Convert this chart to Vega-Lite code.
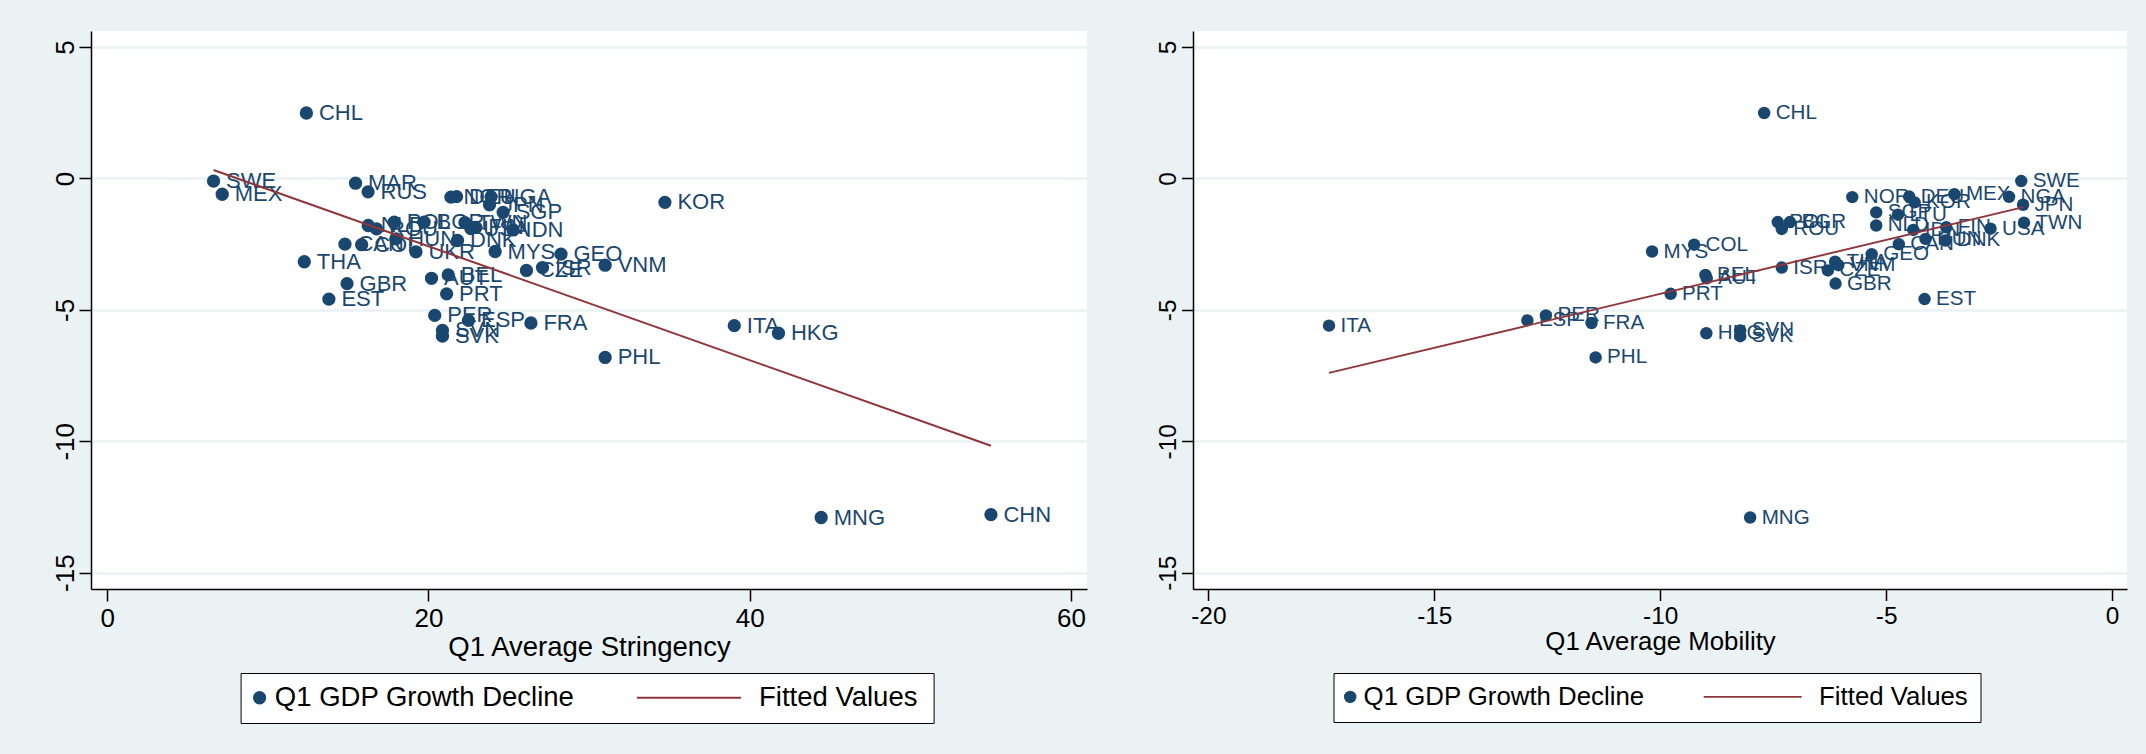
{
  "$schema": "https://vega.github.io/schema/vega-lite/v6.json",
  "background": "#EAF2F3",
  "padding": {"left": 51, "top": 31, "right": 19, "bottom": 33},
  "spacing": 68,
  "config": {
    "locale": {"number": {"decimal": ".", "thousands": ",", "grouping": [3], "currency": ["$", ""], "minus": "-"}},
    "view": {"stroke": null, "fill": "#FFFFFF"},
    "font": "Liberation Sans",
    "axis": {
      "domainColor": "#000000", "tickColor": "#000000", "labelColor": "#000000", "titleColor": "#000000",
      "domainWidth": 1.5, "tickWidth": 1.5, "labelFont": "Liberation Sans", "titleFont": "Liberation Sans",
      "titleFontWeight": "normal", "labelFlush": false, "labelOverlap": false
    },
    "axisX": {"grid": false},
    "axisY": {"grid": true, "gridColor": "#EAF2F3", "gridWidth": 2.5, "labelAngle": 270, "labelAlign": "center", "labelBaseline": "bottom"},
    "legend": {"labelFont": "Liberation Sans", "labelColor": "#000000", "labelLimit": 0, "title": null}
  },
  "datasets": {
    "pts": [
      {"iso": "CHL", "gdp": 2.49, "str": 12.4, "mob": -7.70},
      {"iso": "SWE", "gdp": -0.10, "str": 6.62, "mob": -2.01},
      {"iso": "MAR", "gdp": -0.18, "str": 15.46, "mob": null},
      {"iso": "RUS", "gdp": -0.51, "str": 16.24, "mob": null},
      {"iso": "MEX", "gdp": -0.60, "str": 7.16, "mob": -3.49},
      {"iso": "NOR", "gdp": -0.71, "str": 21.4, "mob": -5.75},
      {"iso": "DEU", "gdp": -0.69, "str": 21.75, "mob": -4.49},
      {"iso": "NGA", "gdp": -0.70, "str": 23.9, "mob": -2.28},
      {"iso": "KOR", "gdp": -0.91, "str": 34.72, "mob": -4.37},
      {"iso": "JPN", "gdp": -1.00, "str": 23.8, "mob": -1.97},
      {"iso": "SGP", "gdp": -1.29, "str": 24.65, "mob": -5.22},
      {"iso": "LTU", "gdp": -1.38, "str": null, "mob": -4.74},
      {"iso": "POL", "gdp": -1.66, "str": 17.87, "mob": -7.40},
      {"iso": "BGR", "gdp": -1.66, "str": 19.73, "mob": -7.13},
      {"iso": "TWN", "gdp": -1.68, "str": 22.27, "mob": -1.95},
      {"iso": "NLD", "gdp": -1.79, "str": 16.25, "mob": -5.22},
      {"iso": "FIN", "gdp": -1.86, "str": 22.95, "mob": -3.67},
      {"iso": "USA", "gdp": -1.91, "str": 22.64, "mob": -2.69},
      {"iso": "ROU", "gdp": -1.92, "str": 16.77, "mob": -7.31},
      {"iso": "IDN", "gdp": -1.96, "str": 25.27, "mob": -4.40},
      {"iso": "HUN", "gdp": -2.30, "str": 17.97, "mob": -4.13},
      {"iso": "DNK", "gdp": -2.36, "str": 21.81, "mob": -3.69},
      {"iso": "CAN", "gdp": -2.50, "str": 14.80, "mob": -4.72},
      {"iso": "COL", "gdp": -2.52, "str": 15.84, "mob": -9.25},
      {"iso": "MYS", "gdp": -2.78, "str": 24.15, "mob": -10.18},
      {"iso": "UKR", "gdp": -2.79, "str": 19.22, "mob": null},
      {"iso": "GEO", "gdp": -2.88, "str": 28.25, "mob": -5.32},
      {"iso": "THA", "gdp": -3.17, "str": 12.27, "mob": -6.13},
      {"iso": "VNM", "gdp": -3.30, "str": 31.0, "mob": -6.06},
      {"iso": "ISR", "gdp": -3.39, "str": 27.1, "mob": -7.31},
      {"iso": "CZE", "gdp": -3.50, "str": 26.1, "mob": -6.29},
      {"iso": "BEL", "gdp": -3.67, "str": 21.23, "mob": -9.0},
      {"iso": "AUT", "gdp": -3.80, "str": 20.19, "mob": -8.97},
      {"iso": "GBR", "gdp": -4.00, "str": 14.93, "mob": -6.12},
      {"iso": "PRT", "gdp": -4.39, "str": 21.13, "mob": -9.77},
      {"iso": "EST", "gdp": -4.59, "str": 13.80, "mob": -4.15},
      {"iso": "PER", "gdp": -5.21, "str": 20.39, "mob": -12.53},
      {"iso": "ESP", "gdp": -5.40, "str": 22.49, "mob": -12.94},
      {"iso": "FRA", "gdp": -5.50, "str": 26.38, "mob": -11.52},
      {"iso": "ITA", "gdp": -5.60, "str": 39.04, "mob": -17.33},
      {"iso": "SVN", "gdp": -5.78, "str": 20.87, "mob": -8.23},
      {"iso": "HKG", "gdp": -5.89, "str": 41.79, "mob": -8.98},
      {"iso": "SVK", "gdp": -6.00, "str": 20.87, "mob": -8.23},
      {"iso": "PHL", "gdp": -6.81, "str": 31.0, "mob": -11.43},
      {"iso": "MNG", "gdp": -12.90, "str": 44.45, "mob": -8.01},
      {"iso": "CHN", "gdp": -12.79, "str": 55.02, "mob": null}
    ],
    "fitS": [{"x": 6.62, "y": 0.32}, {"x": 55.02, "y": -10.17}],
    "fitM": [{"x": -17.33, "y": -7.40}, {"x": -1.96, "y": -1.09}]
  },
  "resolve": {"scale": {"fill": "independent", "stroke": "independent"}, "legend": {"fill": "independent", "stroke": "independent"}},
  "hconcat": [
    {
      "width": 996,
      "height": 558,
      "layer": [
        {
          "data": {"name": "pts"},
          "transform": [{"filter": "isValid(datum.str)"}],
          "mark": {"type": "point", "filled": true, "size": 177, "opacity": 1, "strokeWidth": 0},
          "encoding": {
            "x": {"field": "str", "type": "quantitative",
              "scale": {"domain": [-1.01, 61.0], "nice": false, "zero": false},
              "axis": {"values": [0, 20, 40, 60], "title": "Q1 Average Stringency", "labelFontSize": 26, "titleFontSize": 27.5, "tickSize": 12, "labelPadding": 4, "titlePadding": 2}},
            "y": {"field": "gdp", "type": "quantitative",
              "scale": {"domain": [-15.62, 5.61], "nice": false, "zero": false},
              "axis": {"values": [-15, -10, -5, 0, 5], "title": null, "labelFontSize": 26, "tickSize": 12, "labelPadding": 1, "minExtent": 40, "maxExtent": 40}},
            "fill": {"datum": "Q1 GDP Growth Decline",
              "scale": {"range": ["#1A476F"]},
              "legend": {
                "orient": "none", "legendX": 149.6, "legendY": 642, "direction": "horizontal",
                "strokeColor": "#000000", "fillColor": "#FFFFFF", "padding": 11,
                "labelFontSize": 27.5, "symbolType": "circle", "symbolSize": 177, "symbolStrokeWidth": 0, "symbolOpacity": 1,
                "symbolOffset": -5.75, "labelOffset": 1.5,
                "title": "00000000000000000000000", "titleOrient": "right", "titleOpacity": 0, "titleFontSize": 27.17,
                "titlePadding": 0, "titleLimit": 2000, "titleFont": "Liberation Sans", "titleFontWeight": "normal"
              }}
          }
        },
        {
          "data": {"name": "pts"},
          "transform": [{"filter": "isValid(datum.str)"}],
          "mark": {"type": "text", "align": "left", "baseline": "middle", "dx": 12.5, "fontSize": 22, "font": "Liberation Sans", "color": "#1A476F"},
          "encoding": {
            "x": {"field": "str", "type": "quantitative"},
            "y": {"field": "gdp", "type": "quantitative"},
            "text": {"field": "iso"}
          }
        },
        {
          "data": {"name": "fitS"},
          "mark": {"type": "line", "strokeWidth": 2},
          "encoding": {
            "x": {"field": "x", "type": "quantitative"},
            "y": {"field": "y", "type": "quantitative"},
            "stroke": {"datum": "Fitted Values",
              "scale": {"domain": ["Fitted Values"], "range": ["#90353B"]},
              "legend": {
                "orient": "none", "legendX": 545, "legendY": 613.75, "direction": "horizontal",
                "padding": 0, "labelFontSize": 27.5, "symbolType": "stroke", "symbolSize": 10816, "symbolStrokeWidth": 2,
                "symbolOffset": 0, "labelOffset": 17
              }}
          }
        }
      ]
    },
    {
      "width": 934,
      "height": 558,
      "layer": [
        {
          "data": {"name": "pts"},
          "transform": [{"filter": "isValid(datum.mob)"}],
          "mark": {"type": "point", "filled": true, "size": 155, "opacity": 1, "strokeWidth": 0},
          "encoding": {
            "x": {"field": "mob", "type": "quantitative",
              "scale": {"domain": [-20.34, 0.33], "nice": false, "zero": false},
              "axis": {"values": [-20, -15, -10, -5, 0], "title": "Q1 Average Mobility", "labelFontSize": 24.4, "titleFontSize": 25.8, "tickSize": 11.5, "labelPadding": 4, "titlePadding": 2}},
            "y": {"field": "gdp", "type": "quantitative",
              "scale": {"domain": [-15.62, 5.61], "nice": false, "zero": false},
              "axis": {"values": [-15, -10, -5, 0, 5], "title": null, "labelFontSize": 24.4, "tickSize": 11.5, "labelPadding": 1, "minExtent": 38, "maxExtent": 38}},
            "fill": {"datum": "Q1 GDP Growth Decline",
              "scale": {"range": ["#1A476F"]},
              "legend": {
                "orient": "none", "legendX": 140.5, "legendY": 642, "direction": "horizontal",
                "strokeColor": "#000000", "fillColor": "#FFFFFF", "padding": 11,
                "labelFontSize": 25.8, "symbolType": "circle", "symbolSize": 155, "symbolStrokeWidth": 0, "symbolOpacity": 1,
                "symbolOffset": -7.2, "labelOffset": 0.5,
                "title": "00000000000000000000000", "titleOrient": "right", "titleOpacity": 0, "titleFontSize": 25.38,
                "titlePadding": 0, "titleLimit": 2000, "titleFont": "Liberation Sans", "titleFontWeight": "normal"
              }}
          }
        },
        {
          "data": {"name": "pts"},
          "transform": [{"filter": "isValid(datum.mob)"}],
          "mark": {"type": "text", "align": "left", "baseline": "middle", "dx": 11.5, "fontSize": 20.6, "font": "Liberation Sans", "color": "#1A476F"},
          "encoding": {
            "x": {"field": "mob", "type": "quantitative"},
            "y": {"field": "gdp", "type": "quantitative"},
            "text": {"field": "iso"}
          }
        },
        {
          "data": {"name": "fitM"},
          "mark": {"type": "line", "strokeWidth": 1.9},
          "encoding": {
            "x": {"field": "x", "type": "quantitative"},
            "y": {"field": "y", "type": "quantitative"},
            "stroke": {"datum": "Fitted Values",
              "scale": {"domain": ["Fitted Values"], "range": ["#90353B"]},
              "legend": {
                "orient": "none", "legendX": 509.7, "legendY": 615.9, "direction": "horizontal",
                "padding": 0, "labelFontSize": 25.8, "symbolType": "stroke", "symbolSize": 9604, "symbolStrokeWidth": 1.9,
                "symbolOffset": 0, "labelOffset": 16.4
              }}
          }
        }
      ]
    }
  ]
}
